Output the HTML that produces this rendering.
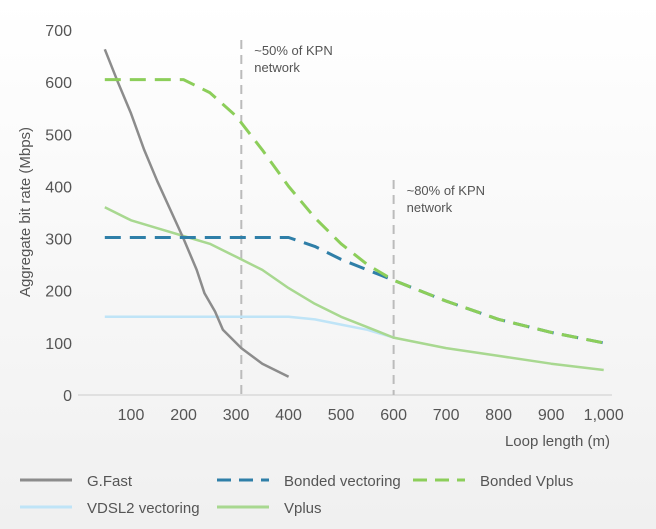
<!DOCTYPE html>
<html><head><meta charset="utf-8"><style>
body{margin:0;width:656px;height:529px;overflow:hidden;font-family:"Liberation Sans",sans-serif;}
svg{display:block}
</style></head><body>
<svg id="c" width="656" height="529" font-family="Liberation Sans, sans-serif">
<defs><linearGradient id="bg" x1="0" y1="0" x2="0" y2="1"><stop offset="0" stop-color="#ffffff"/><stop offset="1" stop-color="#f0f0f0"/></linearGradient></defs>
<rect width="656" height="529" fill="url(#bg)"/>
<g id="plot"></g>
</svg>
<script>
const xTicks=[100,200,300,400,500,600,700,800,900,1000];
const xTickLabels=["100","200","300","400","500","600","700","800","900","1,000"];
const yTicks=[0,100,200,300,400,500,600,700];
const gfastX=[50,75,100,125,150,175,200,225,240,260,275,310,350,400];
const gfastY=[663,600,540,470,410,355,300,240,195,160,125,90,60,35];
const bvplusX=[50,200,250,300,350,400,450,500,550,600,700,800,900,1000];
const bvplusY=[605,605,580,535,470,400,340,290,250,220,180,145,120,100];
const bvecX=[50,400,450,500,550,600,700,800,900,1000];
const bvecY=[302,302,285,260,240,220,180,145,120,100];
const vdslX=[50,400,450,500,550,600];
const vdslY=[150,150,145,135,125,110];
const vplusX=[50,100,150,200,250,300,350,400,450,500,550,600,700,800,900,1000];
const vplusY=[360,335,320,305,290,265,240,205,175,150,130,110,90,75,60,48];
const markers=[310,600];
const NS="http://www.w3.org/2000/svg";
const g=document.getElementById('plot');
const X=v=>78.5+v*0.5252, Y=v=>395-v*0.5214;
function el(t,a,txt){const e=document.createElementNS(NS,t);for(const k in a)e.setAttribute(k,a[k]);if(txt!=null)e.textContent=txt;g.appendChild(e);return e;}
let ax=el('line',{x1:78,y1:395,x2:612,y2:395,stroke:'#d9d9d9','stroke-width':1.5});


yTicks.forEach(v=>{const t=el('text',{x:72,y:Y(v)+6,'text-anchor':'end','font-size':16,fill:'#555'},String(v));

});
xTicks.forEach((v,i)=>{const t=el('text',{x:X(v),y:420,'text-anchor':'middle','font-size':16,fill:'#555'},xTickLabels[i]);

});
let yt=el('text',{transform:'translate(30,212) rotate(-90)','text-anchor':'middle','font-size':15,fill:'#555'},'Aggregate bit rate (Mbps)');


let xt=el('text',{x:610,y:446,'text-anchor':'end','font-size':15,fill:'#555'},'Loop length (m)');


const mTop=[40,180];
const mText=[["~50% of KPN","network"],["~80% of KPN","network"]];
markers.forEach((m,i)=>{const l=el('line',{x1:X(m),y1:mTop[i],x2:X(m),y2:395,stroke:'#bbb','stroke-width':2,'stroke-dasharray':'9,6'});


mText[i].forEach((s,j)=>{const t=el('text',{x:X(m)+13,y:mTop[i]+15+j*17,'font-size':13,fill:'#555'},s);

});});
function line(xs,ys,col,dash,w,name){const d=xs.map((x,i)=>(i?'L':'M')+X(x).toFixed(1)+','+Y(ys[i]).toFixed(1)).join('');
const p=el('path',{d:d,fill:'none',stroke:col,'stroke-width':w,'stroke-dasharray':dash||'none','stroke-linejoin':'round'});

}
line(vdslX,vdslY,'#bfe4f7','',2.5,'series-vdsl2-vectoring');
line(vplusX,vplusY,'#a8d890','',2.5,'series-vplus');
line(gfastX,gfastY,'#8c8c8c','',2.5,'series-gfast');
line(bvecX,bvecY,'#2f7fa8','16,9',3,'series-bonded-vectoring');
line(bvplusX,bvplusY,'#8cce5a','16,9',3,'series-bonded-vplus');
const leg=[["G.Fast",'#8c8c8c','',20,480],["Bonded vectoring",'#2f7fa8','14,8',217,480],["Bonded Vplus",'#8cce5a','14,8',413,480],["VDSL2 vectoring",'#bfe4f7','',20,507],["Vplus",'#a8d890','',217,507]];
leg.forEach(e=>{const l=el('line',{x1:e[3],y1:e[4],x2:e[3]+52,y2:e[4],stroke:e[1],'stroke-width':3,'stroke-dasharray':e[2]||'none'});


const t=el('text',{x:e[3]+67,y:e[4]+6,'font-size':15,fill:'#555'},e[0]);

});
</script>
</body></html>
